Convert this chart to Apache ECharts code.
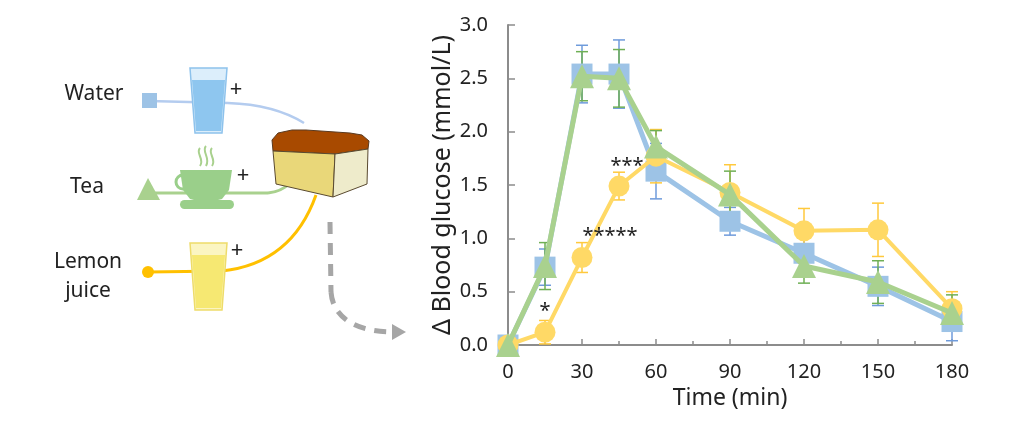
<!DOCTYPE html>
<html>
<head>
<meta charset="utf-8">
<script src="https://cdn.jsdelivr.net/npm/echarts@6/dist/echarts.min.js"></script>
<style>
  html, body { margin: 0; padding: 0; background: #fff; }
  #main { width: 1030px; height: 442px; }
</style>
</head>
<body>
<div id="main"></div>
<script>
// time points (min)
var times = [0, 15, 30, 45, 60, 90, 120, 150, 180];

// mean delta blood glucose (mmol/L)
var water = [0, 0.73, 2.54, 2.54, 1.63, 1.16, 0.86, 0.55, 0.22];
var tea = [0, 0.74, 2.52, 2.50, 1.86, 1.41, 0.74, 0.59, 0.30];
var lemon = [0, 0.12, 0.82, 1.49, 1.77, 1.43, 1.07, 1.08, 0.34];

// error (SD)
var waterErr = [0, 0.17, 0.27, 0.32, 0.26, 0.13, 0.20, 0.18, 0.18];
var teaErr = [0, 0.22, 0.23, 0.27, 0.15, 0.22, 0.16, 0.20, 0.17];
var lemonErr = [0, 0.11, 0.14, 0.13, 0.25, 0.26, 0.21, 0.25, 0.16];

// significance marks on lemon juice
var lemonSig = ['', '*', '*****', '***', '', '', '', '', ''];

var chart = echarts.init(document.getElementById('main'));
var FONT = 'Noto Sans';

function pairs(vals) {
  return times.map(function (t, i) { return [t, vals[i]]; });
}

function errorSeries(vals, errs, color) {
  return {
    type: 'custom',
    z: 1,
    silent: true,
    clip: false,
    data: times.map(function (t, i) { return [t, vals[i] - errs[i], vals[i] + errs[i]]; }),
    renderItem: function (params, api) {
      var x = api.value(0);
      var lo = api.coord([x, api.value(1)]);
      var hi = api.coord([x, api.value(2)]);
      var w = 6;
      var st = { stroke: color, lineWidth: 1.5 };
      return {
        type: 'group',
        children: [
          { type: 'line', shape: { x1: lo[0], y1: lo[1], x2: hi[0], y2: hi[1] }, style: st },
          { type: 'line', shape: { x1: lo[0] - w, y1: lo[1], x2: lo[0] + w, y2: lo[1] }, style: st },
          { type: 'line', shape: { x1: hi[0] - w, y1: hi[1], x2: hi[0] + w, y2: hi[1] }, style: st }
        ]
      };
    }
  };
}

var sigOffset = { '*': [0, 6], '*****': [28, 5], '***': [8, 7] };

var lemonData = pairs(lemon).map(function (p, i) {
  var s = lemonSig[i];
  if (!s) return p;
  return {
    value: p,
    label: {
      show: true, position: 'top', formatter: s, offset: sigOffset[s],
      color: '#222', fontSize: 20, fontFamily: FONT, distance: 6
    }
  };
});

// left side illustration
var blueLine = '#B4CCEF', greenC = '#A9D18E', yellowC = '#FFC000', cupC = '#9ACF8A';
function txt(s, x, y, extra) {
  return { type: 'text', x: x, y: y,
    style: Object.assign({ text: s, textAlign: 'center', textVerticalAlign: 'middle',
      fill: '#222', fontSize: 21, fontFamily: FONT }, extra || {}) };
}
function seg(x1, y1, x2, y2, st) {
  return { type: 'line', shape: { x1: x1, y1: y1, x2: x2, y2: y2 }, style: st };
}
function curve(p, st) {
  return { type: 'bezierCurve', shape: { x1: p[0], y1: p[1], cpx1: p[2], cpy1: p[3], cpx2: p[4], cpy2: p[5], x2: p[6], y2: p[7] }, style: Object.assign({ fill: null }, st) };
}
var stBlue = { stroke: blueLine, lineWidth: 2.5 };
var stGreen = { stroke: greenC, lineWidth: 3 };
var stYellow = { stroke: yellowC, lineWidth: 3 };
var stSteam = { stroke: greenC, lineWidth: 2 };
var stArrow = { stroke: '#A6A6A6', lineWidth: 5, lineDash: [12, 9] };
var graphics = [
  // connecting lines
  seg(149, 101, 228, 103, stBlue),
  curve([228, 103, 258, 104, 283, 110, 304, 123], stBlue),
  seg(148, 193, 268, 193, stGreen),
  curve([268, 193, 279, 192, 285, 188, 290, 183], stGreen),
  seg(148, 272, 222, 271, stYellow),
  curve([222, 271, 268, 266, 300, 240, 316, 195], stYellow),
  // legend markers
  { type: 'rect', shape: { x: 142, y: 93, width: 15, height: 15 }, style: { fill: '#9DC3E6' } },
  { type: 'polygon', shape: { points: [[137, 200], [148, 178], [160, 200]] }, style: { fill: greenC } },
  { type: 'circle', shape: { cx: 148, cy: 272, r: 6 }, style: { fill: yellowC } },
  // water glass
  { type: 'polygon', shape: { points: [[190, 68], [227, 68], [222, 133], [195, 133]] }, style: { fill: '#DCEEFB', stroke: '#8DC2EC', lineWidth: 1.5 } },
  { type: 'polygon', shape: { points: [[192, 80], [225, 80], [221, 131], [196, 131]] }, style: { fill: '#8EC6EF' } },
  // tea cup
  curve([200, 148, 195, 153, 205, 159, 200, 166], stSteam),
  curve([206, 146, 201, 151, 211, 158, 206, 166], stSteam),
  curve([212, 148, 207, 153, 217, 159, 212, 166], stSteam),
  { type: 'circle', shape: { cx: 183, cy: 182, r: 7 }, style: { fill: null, stroke: cupC, lineWidth: 3 } },
  { type: 'polygon', shape: { points: [[180, 170], [232, 170], [229, 190], [222, 199], [206, 203], [190, 199], [183, 190]] }, style: { fill: cupC } },
  { type: 'rect', shape: { x: 180, y: 200, width: 54, height: 9, r: 4.5 }, style: { fill: cupC } },
  // lemon glass
  { type: 'polygon', shape: { points: [[190, 243], [227, 243], [222, 310], [195, 310]] }, style: { fill: '#FBF5C2', stroke: '#EEDC6A', lineWidth: 1.5 } },
  { type: 'polygon', shape: { points: [[192, 255], [225, 255], [221, 308], [196, 308]] }, style: { fill: '#F6E872' } },
  // bread
  { type: 'polygon', shape: { points: [[273, 151], [272, 140], [278, 133], [292, 130], [306, 130], [350, 133], [362, 135], [369, 141], [368, 149], [335, 154]] }, style: { fill: '#A84A00', stroke: '#5a3a20', lineWidth: 1 } },
  { type: 'polygon', shape: { points: [[273, 151], [335, 154], [333, 197], [276, 184]] }, style: { fill: '#E9D779', stroke: '#5a4a30', lineWidth: 1 } },
  { type: 'polygon', shape: { points: [[335, 154], [368, 149], [367, 184], [333, 197]] }, style: { fill: '#EEEBCB', stroke: '#5a4a30', lineWidth: 1 } },
  // dashed arrow
  seg(330, 222, 331, 292, stArrow),
  curve([331, 292, 333, 320, 360, 332, 393, 332], stArrow),
  { type: 'polygon', shape: { points: [[392, 324], [406, 332], [392, 340]] }, style: { fill: '#A6A6A6' } },
  // labels
  txt('Water', 94, 94),
  txt('Tea', 87, 187),
  txt('Lemon', 88, 262),
  txt('juice', 88, 291),
  txt('+', 236, 90, { fontSize: 22 }),
  txt('+', 243, 176, { fontSize: 22 }),
  txt('+', 237, 251, { fontSize: 22 })
];

var option = {
  backgroundColor: '#fff',
  animation: false,
  grid: { left: 508, right: 78, top: 25, bottom: 97 },
  xAxis: {
    type: 'value', min: 0, max: 180, interval: 30,
    name: 'Time (min)', nameLocation: 'middle', nameGap: 37,
    nameTextStyle: { fontSize: 23, color: '#222', fontFamily: FONT },
    axisLine: { show: true, lineStyle: { color: '#8C8C8C', width: 2 } },
    axisTick: { show: true, inside: true, length: 6, lineStyle: { color: '#8C8C8C', width: 1.5 } },
    minorTick: { show: true, splitNumber: 2, length: 4, lineStyle: { color: '#8C8C8C', width: 1.5 } },
    axisLabel: { fontSize: 20, color: '#222', fontFamily: FONT, margin: 17 },
    splitLine: { show: false }
  },
  yAxis: {
    type: 'value', min: 0, max: 3, interval: 0.5,
    name: 'Δ Blood glucose (mmol/L)', nameLocation: 'middle', nameGap: 46,
    nameTextStyle: { fontSize: 25, color: '#222', fontFamily: FONT },
    axisLine: { show: true, lineStyle: { color: '#8C8C8C', width: 2 } },
    axisTick: { show: true, inside: true, length: 7, lineStyle: { color: '#8C8C8C', width: 1.5 } },
    axisLabel: { fontSize: 20, color: '#222', fontFamily: FONT, margin: 20,
      formatter: function (v) { return v.toFixed(1); } },
    splitLine: { show: false }
  },
  graphic: graphics,
  series: [
    errorSeries(water, waterErr, '#6F9BDB'),
    errorSeries(lemon, lemonErr, '#FFC93C'),
    errorSeries(tea, teaErr, '#6FAF55'),
    {
      name: 'Water', type: 'line', data: pairs(water), clip: false, z: 2,
      symbol: 'rect', symbolSize: 21,
      lineStyle: { color: '#9DC3E6', width: 5 }, itemStyle: { color: '#9DC3E6' }
    },
    {
      name: 'Lemon juice', type: 'line', data: lemonData, clip: false, z: 3,
      symbol: 'circle', symbolSize: 21,
      lineStyle: { color: '#FFD966', width: 4 }, itemStyle: { color: '#FFD966' }
    },
    {
      name: 'Tea', type: 'line', data: pairs(tea), clip: false, z: 4,
      symbol: 'triangle', symbolSize: 24,
      lineStyle: { color: '#A9D18E', width: 5 }, itemStyle: { color: '#A9D18E' }
    }
  ]
};
chart.setOption(option);
</script>
</body>
</html>
